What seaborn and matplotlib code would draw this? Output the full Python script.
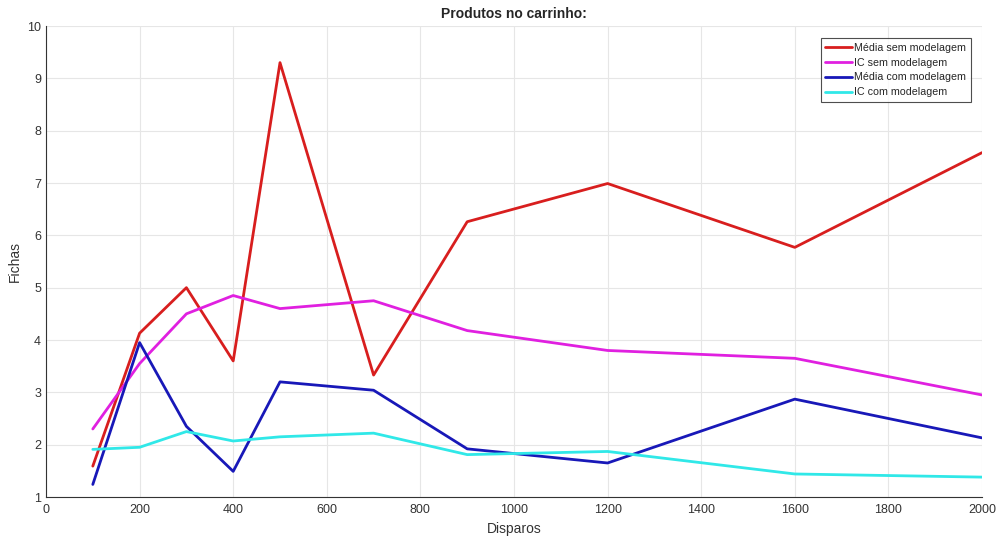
import matplotlib
matplotlib.use("Agg")
import matplotlib.pyplot as plt
import seaborn as sns
import pandas as pd

disparos = [100, 200, 300, 400, 500, 700, 900, 1200, 1600, 2000]
media_sem = [1.59, 4.13, 5.0, 3.6, 9.3, 3.33, 6.26, 6.99, 5.77, 7.58]
ic_sem = [2.3, 3.55, 4.5, 4.85, 4.6, 4.75, 4.18, 3.8, 3.65, 2.95]
media_com = [1.24, 3.95, 2.35, 1.49, 3.2, 3.04, 1.92, 1.65, 2.87, 2.13]
ic_com = [1.91, 1.95, 2.25, 2.07, 2.15, 2.22, 1.81, 1.87, 1.44, 1.38]
series_names = ["Média sem modelagem", "IC sem modelagem", "Média com modelagem", "IC com modelagem"]
colors = ["#d81e1e", "#e020e0", "#1818b8", "#30e8e8"]

rows = []
for name, vals in zip(series_names, [media_sem, ic_sem, media_com, ic_com]):
    for x, v in zip(disparos, vals):
        rows.append({"Disparos": x, "Fichas": v, "serie": name})
df = pd.DataFrame(rows)

sns.set_style("white")
plt.rcParams['font.family'] = ['Liberation Sans', 'DejaVu Sans']

fig = plt.figure(figsize=(9.98, 5.36), dpi=100)
ax = fig.add_axes([46/998, 1-497/536, (982-46)/998, (497-26)/536])
sns.lineplot(data=df, x="Disparos", y="Fichas", hue="serie", hue_order=series_names,
             palette=colors, linewidth=2, ax=ax)
ax.set_xlim(0, 2000)
ax.set_ylim(1, 10)
ax.set_xticks(range(0, 2001, 200))
ax.set_yticks(range(1, 11))
ax.grid(True, color="#e6e6e6", linewidth=0.8)
ax.set_axisbelow(True)
for s in ["top", "right"]:
    ax.spines[s].set_visible(False)
for s in ["left", "bottom"]:
    ax.spines[s].set_color("#333333")
    ax.spines[s].set_linewidth(0.8)
ax.tick_params(axis="both", labelsize=9, colors="#333333", direction="in", length=4, width=0.6)
ax.tick_params(axis="x", pad=5)
ax.set_xlabel("Disparos", fontsize=10, color="#333333")
ax.set_ylabel("Fichas", fontsize=10, color="#333333")
ax.set_title("Produtos no carrinho:", fontsize=10, fontweight="bold", pad=6)
leg = ax.legend(loc="upper right", bbox_to_anchor=((971-46)/936, (497-38)/471), borderaxespad=0,
                fontsize=7.7, frameon=True,
                fancybox=False, edgecolor="#222222", handlelength=2.5, handletextpad=0.2,
                borderpad=0.45, labelspacing=0.45, title=None)
leg.get_frame().set_linewidth(0.8)
fig.savefig("out.png", dpi=100)
